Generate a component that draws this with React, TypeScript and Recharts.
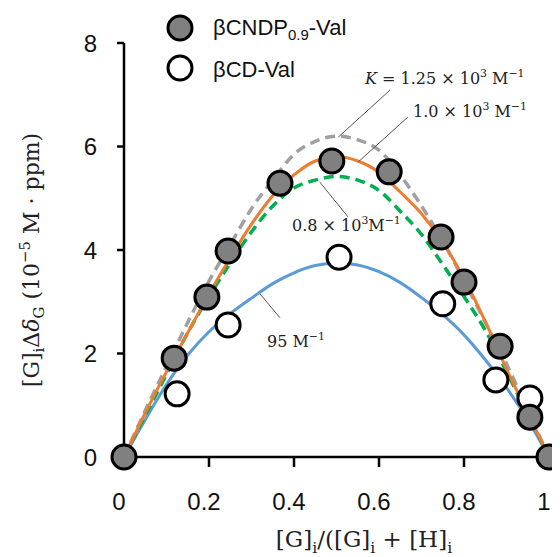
import React from 'react';
import { ComposedChart, Line, Scatter, XAxis, YAxis, ReferenceLine } from 'recharts';

// Sample positions along the mole-fraction axis for the fitted curves
const fitX = [0, 0.05, 0.1, 0.15, 0.2, 0.25, 0.3, 0.35, 0.4, 0.45, 0.5, 0.55, 0.6, 0.65, 0.7, 0.75, 0.8, 0.85, 0.9, 0.95, 1];

// Fitted 1:1 binding curves (10^-5 M·ppm)
const fitK1250 = [0, 0.9, 1.75, 2.6, 3.4, 4.1, 4.8, 5.35, 5.85, 6.1, 6.2, 6.13, 5.93, 5.45, 4.85, 4.17, 3.41, 2.6, 1.8, 0.9, 0];
const fitK1000 = [0, 0.85, 1.65, 2.4, 3.15, 3.85, 4.5, 5.05, 5.45, 5.72, 5.8, 5.72, 5.5, 5.12, 4.7, 4.15, 3.45, 2.62, 1.7, 0.85, 0];
const fitK800 = [0, 0.8, 1.6, 2.4, 3.1, 3.75, 4.35, 4.85, 5.2, 5.35, 5.42, 5.35, 5.15, 4.75, 4.3, 3.72, 3.1, 2.45, 1.65, 0.82, 0];
const fitK95 = [0, 0.72, 1.4, 1.97, 2.42, 2.77, 3.07, 3.35, 3.56, 3.7, 3.75, 3.71, 3.58, 3.37, 3.08, 2.75, 2.36, 1.88, 1.34, 0.72, 0];

// Measured points
const cndpX = [0, 0.118, 0.195, 0.245, 0.367, 0.489, 0.624, 0.746, 0.8, 0.885, 0.955, 1];
const cndpY = [0, 1.91, 3.09, 3.98, 5.29, 5.72, 5.51, 4.25, 3.38, 2.14, 0.77, 0];
const cdX = [0.125, 0.245, 0.506, 0.75, 0.875, 0.955];
const cdY = [1.22, 2.55, 3.86, 2.96, 1.49, 1.14];

const xTicks = [0, 0.2, 0.4, 0.6, 0.8, 1];
const yTicks = [0, 2, 4, 6, 8];

// Leader lines from each annotation to its curve, in data units
const leaders = [
  [{ x: 0.626, y: 7.09 }, { x: 0.504, y: 6.18 }],
  [{ x: 0.668, y: 6.57 }, { x: 0.551, y: 5.7 }],
  [{ x: 0.527, y: 4.64 }, { x: 0.461, y: 5.31 }],
  [{ x: 0.32, y: 3.15 }, { x: 0.367, y: 2.69 }],
];

const zip = (xs: number[], ys: number[]) => xs.map((x, i) => ({ x, y: ys[i] }));

const W = 552;
const H = 549;
const SANS = "'Liberation Sans', Arial, sans-serif";
const SERIF = "'DejaVu Serif', 'Liberation Serif', serif";

type Seg = { t: string; sup?: boolean; sub?: boolean; it?: boolean };

function Rich({ x, y, segs, size, anchor = 'start', rotate, family = SERIF, fill = '#222' }: {
  x: number; y: number; segs: Seg[]; size: number; anchor?: string; rotate?: number; family?: string; fill?: string;
}) {
  let cur = 0;
  const spans = segs.map((s, i) => {
    const target = s.sup ? -0.42 * size : s.sub ? 0.24 * size : 0;
    const dy = target - cur;
    cur = target;
    return (
      <tspan key={i} dy={dy} fontSize={s.sup || s.sub ? size * 0.68 : size} fontStyle={s.it ? 'italic' : 'normal'}>
        {s.t}
      </tspan>
    );
  });
  return (
    <text
      x={x}
      y={y}
      textAnchor={anchor as any}
      fontFamily={family}
      fontSize={size}
      fill={fill}
      style={{ whiteSpace: 'pre' }}
      transform={rotate ? `rotate(${rotate} ${x} ${y})` : undefined}
    >
      {spans}
    </text>
  );
}

const dot = (fill: string) => (props: any) => (
  <circle cx={props.cx} cy={props.cy} r={12} fill={fill} stroke="#000" strokeWidth={3} />
);

const XTick = (props: any) => {
  const { x, y, payload } = props;
  return (
    <text x={x - 5} y={y} dy="0.71em" textAnchor="middle" fontFamily={SANS} fontSize={24} fill="#111">
      {String(payload.value)}
    </text>
  );
};

const YTick = (props: any) => {
  const { x, y, payload } = props;
  return (
    <text x={x} y={y} dy="0.36em" textAnchor="end" fontFamily={SANS} fontSize={24} fill="#111">
      {String(payload.value)}
    </text>
  );
};

export default function App() {
  return (
    <div style={{ position: 'relative', width: W, height: H }}>
      <style>{'html,body{overflow:hidden}'}</style>
      <ComposedChart width={W} height={H} margin={{ top: 35, right: 11, left: 0, bottom: 40 }}>
        <XAxis
          type="number"
          dataKey="x"
          domain={[0, 1]}
          ticks={xTicks}
          interval={0}
          height={60}
          tickSize={10}
          tickMargin={26}
          tick={<XTick />}
          axisLine={{ stroke: '#000', strokeWidth: 2.5 }}
          tickLine={{ stroke: '#000', strokeWidth: 2.5 }}
        />
        <YAxis
          type="number"
          dataKey="y"
          domain={[0, 8]}
          ticks={yTicks}
          interval={0}
          width={116}
          tickSize={7}
          tickMargin={20}
          tick={<YTick />}
          axisLine={{ stroke: '#000', strokeWidth: 2.5 }}
          tickLine={{ stroke: '#000', strokeWidth: 2.5 }}
        />
        <Line data={zip(fitX, fitK95)} dataKey="y" type="monotone" stroke="#5B9BD5" strokeWidth={3} dot={false} isAnimationActive={false} />
        <Line data={zip(fitX, fitK800)} dataKey="y" type="monotone" stroke="#00B050" strokeWidth={3.5} strokeDasharray="10 6" dot={false} isAnimationActive={false} />
        <Line data={zip(fitX, fitK1250)} dataKey="y" type="monotone" stroke="#A0A0A0" strokeWidth={3.5} strokeDasharray="10 6" dot={false} isAnimationActive={false} />
        <Line data={zip(fitX, fitK1000)} dataKey="y" type="monotone" stroke="#ED7D31" strokeWidth={3} dot={false} isAnimationActive={false} />
        {leaders.map((seg, i) => (
          <ReferenceLine key={i} segment={seg} stroke="#555" strokeWidth={1} ifOverflow="visible" />
        ))}
        <Scatter name="βCD-Val" data={zip(cdX, cdY)} dataKey="y" shape={dot('#fff')} isAnimationActive={false} />
        <Scatter name="βCNDP0.9-Val" data={zip(cndpX, cndpY)} dataKey="y" shape={dot('#808080')} isAnimationActive={false} />
      </ComposedChart>
      <svg width={W} height={H} style={{ position: 'absolute', left: 0, top: 0, pointerEvents: 'none' }}>
        {/* legend */}
        <circle cx={172} cy={20} r={12} fill="#808080" stroke="#000" strokeWidth={3} />
        <circle cx={172} cy={60} r={12} fill="#fff" stroke="#000" strokeWidth={3} />
        <Rich x={205} y={27} size={22} family={SANS} fill="#111" segs={[{ t: 'βCNDP' }, { t: '0.9', sub: true }, { t: '-Val' }]} />
        <Rich x={205} y={69} size={22} family={SANS} fill="#111" segs={[{ t: 'βCD-Val' }]} />

        {/* curve annotations */}
        <Rich x={357} y={76} size={16} segs={[{ t: 'K', it: true }, { t: ' = 1.25 × 10' }, { t: '3', sup: true }, { t: ' M' }, { t: '−1', sup: true }]} />
        <Rich x={405} y={109} size={16} segs={[{ t: '1.0 × 10' }, { t: '3', sup: true }, { t: ' M' }, { t: '−1', sup: true }]} />
        <Rich x={284} y={223} size={16} segs={[{ t: '0.8 × 10' }, { t: '3', sup: true }, { t: 'M' }, { t: '−1', sup: true }]} />
        <Rich x={259} y={339} size={16} segs={[{ t: '95 M' }, { t: '−1', sup: true }]} />

        {/* axis titles */}
        <Rich
          x={31}
          y={252}
          size={22}
          anchor="middle"
          rotate={-90}
          segs={[{ t: '[G]' }, { t: 'i', sub: true }, { t: 'Δ' }, { t: 'δ', it: true }, { t: 'G', sub: true }, { t: ' (10' }, { t: '−5', sup: true }, { t: ' M · ppm)' }]}
        />
        <Rich
          x={356}
          y={539}
          size={23}
          anchor="middle"
          segs={[{ t: '[G]' }, { t: 'i', sub: true }, { t: '/([G]' }, { t: 'i', sub: true }, { t: ' + [H]' }, { t: 'i', sub: true }]}
        />
      </svg>
    </div>
  );
}
